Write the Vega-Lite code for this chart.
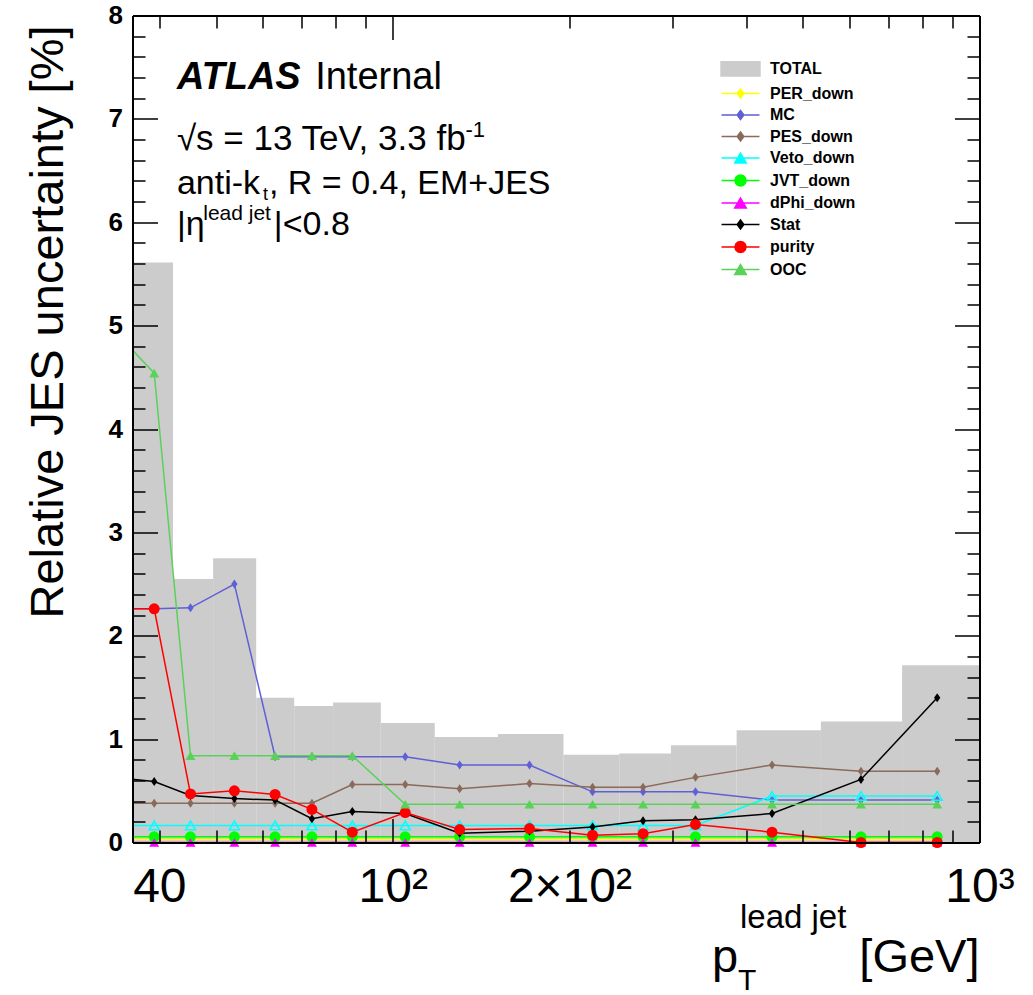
{
  "$schema": "https://vega.github.io/schema/vega-lite/v6.json",
  "width": 847,
  "height": 827,
  "autosize": {"type": "none"},
  "padding": {"left": 132.5, "top": 15.5, "right": 53.5, "bottom": 152.5},
  "background": "white",
  "config": {
    "view": {"stroke": null},
    "axis": {"grid": false, "labelFont": "Liberation Sans", "titleFont": "Liberation Sans", "labelColor": "black", "titleColor": "black", "domainColor": "black", "gridColor": "black", "gridOpacity": 1, "gridWidth": 1.5},
    "text": {"font": "Liberation Sans", "color": "black"}
  },
  "datasets": {
    "bins": [
      {"s": "TOTAL", "lo": 36, "hi": 42.2, "total": 5.61},
      {"s": "TOTAL", "lo": 42.2, "hi": 49.4, "total": 2.55},
      {"s": "TOTAL", "lo": 49.4, "hi": 58.5, "total": 2.75},
      {"s": "TOTAL", "lo": 58.5, "hi": 67.9, "total": 1.40},
      {"s": "TOTAL", "lo": 67.9, "hi": 79.1, "total": 1.32},
      {"s": "TOTAL", "lo": 79.1, "hi": 95.4, "total": 1.355},
      {"s": "TOTAL", "lo": 95.4, "hi": 117.9, "total": 1.155},
      {"s": "TOTAL", "lo": 117.9, "hi": 151.1, "total": 1.02},
      {"s": "TOTAL", "lo": 151.1, "hi": 195.4, "total": 1.05},
      {"s": "TOTAL", "lo": 195.4, "hi": 243.2, "total": 0.85},
      {"s": "TOTAL", "lo": 243.2, "hi": 297.9, "total": 0.86},
      {"s": "TOTAL", "lo": 297.9, "hi": 385.5, "total": 0.94},
      {"s": "TOTAL", "lo": 385.5, "hi": 536.6, "total": 1.085},
      {"s": "TOTAL", "lo": 536.6, "hi": 738, "total": 1.17},
      {"s": "TOTAL", "lo": 738, "hi": 1000, "total": 1.715}
    ],
    "pts": [
      {"s": "PER_down", "pt": 33.5, "v": 0.03}, {"s": "PER_down", "pt": 39.2, "v": 0.03}, {"s": "PER_down", "pt": 45.2, "v": 0.03}, {"s": "PER_down", "pt": 53.7, "v": 0.03},
      {"s": "PER_down", "pt": 63, "v": 0.03}, {"s": "PER_down", "pt": 72.8, "v": 0.03}, {"s": "PER_down", "pt": 85.3, "v": 0.03}, {"s": "PER_down", "pt": 105, "v": 0.03},
      {"s": "PER_down", "pt": 130, "v": 0.03}, {"s": "PER_down", "pt": 171, "v": 0.03}, {"s": "PER_down", "pt": 219, "v": 0.03}, {"s": "PER_down", "pt": 267, "v": 0.03},
      {"s": "PER_down", "pt": 328, "v": 0.03}, {"s": "PER_down", "pt": 443, "v": 0.03}, {"s": "PER_down", "pt": 628, "v": 0.03}, {"s": "PER_down", "pt": 847, "v": 0.03},

      {"s": "MC", "pt": 33.5, "v": 2.26}, {"s": "MC", "pt": 39.2, "v": 2.26}, {"s": "MC", "pt": 45.2, "v": 2.27}, {"s": "MC", "pt": 53.7, "v": 2.5},
      {"s": "MC", "pt": 63, "v": 0.83}, {"s": "MC", "pt": 72.8, "v": 0.83}, {"s": "MC", "pt": 85.3, "v": 0.83}, {"s": "MC", "pt": 105, "v": 0.83},
      {"s": "MC", "pt": 130, "v": 0.75}, {"s": "MC", "pt": 171, "v": 0.75}, {"s": "MC", "pt": 219, "v": 0.49}, {"s": "MC", "pt": 267, "v": 0.49},
      {"s": "MC", "pt": 328, "v": 0.49}, {"s": "MC", "pt": 443, "v": 0.41}, {"s": "MC", "pt": 628, "v": 0.41}, {"s": "MC", "pt": 847, "v": 0.41},

      {"s": "PES_down", "pt": 33.5, "v": 0.38}, {"s": "PES_down", "pt": 39.2, "v": 0.38}, {"s": "PES_down", "pt": 45.2, "v": 0.38}, {"s": "PES_down", "pt": 53.7, "v": 0.38},
      {"s": "PES_down", "pt": 63, "v": 0.38}, {"s": "PES_down", "pt": 72.8, "v": 0.38}, {"s": "PES_down", "pt": 85.3, "v": 0.56}, {"s": "PES_down", "pt": 105, "v": 0.56},
      {"s": "PES_down", "pt": 130, "v": 0.52}, {"s": "PES_down", "pt": 171, "v": 0.57}, {"s": "PES_down", "pt": 219, "v": 0.535}, {"s": "PES_down", "pt": 267, "v": 0.535},
      {"s": "PES_down", "pt": 328, "v": 0.63}, {"s": "PES_down", "pt": 443, "v": 0.75}, {"s": "PES_down", "pt": 628, "v": 0.69}, {"s": "PES_down", "pt": 847, "v": 0.69},

      {"s": "Veto_down", "pt": 33.5, "v": 0.165}, {"s": "Veto_down", "pt": 39.2, "v": 0.165}, {"s": "Veto_down", "pt": 45.2, "v": 0.165}, {"s": "Veto_down", "pt": 53.7, "v": 0.165},
      {"s": "Veto_down", "pt": 63, "v": 0.165}, {"s": "Veto_down", "pt": 72.8, "v": 0.165}, {"s": "Veto_down", "pt": 85.3, "v": 0.165}, {"s": "Veto_down", "pt": 105, "v": 0.165},
      {"s": "Veto_down", "pt": 130, "v": 0.165}, {"s": "Veto_down", "pt": 171, "v": 0.165}, {"s": "Veto_down", "pt": 219, "v": 0.165}, {"s": "Veto_down", "pt": 267, "v": 0.165},
      {"s": "Veto_down", "pt": 328, "v": 0.165}, {"s": "Veto_down", "pt": 443, "v": 0.45}, {"s": "Veto_down", "pt": 628, "v": 0.45}, {"s": "Veto_down", "pt": 847, "v": 0.45},

      {"s": "JVT_down", "pt": 33.5, "v": 0.055}, {"s": "JVT_down", "pt": 39.2, "v": 0.055}, {"s": "JVT_down", "pt": 45.2, "v": 0.055}, {"s": "JVT_down", "pt": 53.7, "v": 0.055},
      {"s": "JVT_down", "pt": 63, "v": 0.055}, {"s": "JVT_down", "pt": 72.8, "v": 0.055}, {"s": "JVT_down", "pt": 85.3, "v": 0.055}, {"s": "JVT_down", "pt": 105, "v": 0.055},
      {"s": "JVT_down", "pt": 130, "v": 0.055}, {"s": "JVT_down", "pt": 171, "v": 0.055}, {"s": "JVT_down", "pt": 219, "v": 0.055}, {"s": "JVT_down", "pt": 267, "v": 0.055},
      {"s": "JVT_down", "pt": 328, "v": 0.055}, {"s": "JVT_down", "pt": 443, "v": 0.055}, {"s": "JVT_down", "pt": 628, "v": 0.055}, {"s": "JVT_down", "pt": 847, "v": 0.055},

      {"s": "dPhi_down", "pt": 33.5, "v": 0}, {"s": "dPhi_down", "pt": 39.2, "v": 0}, {"s": "dPhi_down", "pt": 45.2, "v": 0}, {"s": "dPhi_down", "pt": 53.7, "v": 0},
      {"s": "dPhi_down", "pt": 63, "v": 0}, {"s": "dPhi_down", "pt": 72.8, "v": 0}, {"s": "dPhi_down", "pt": 85.3, "v": 0}, {"s": "dPhi_down", "pt": 105, "v": 0},
      {"s": "dPhi_down", "pt": 130, "v": 0}, {"s": "dPhi_down", "pt": 171, "v": 0}, {"s": "dPhi_down", "pt": 219, "v": 0}, {"s": "dPhi_down", "pt": 267, "v": 0},
      {"s": "dPhi_down", "pt": 328, "v": 0}, {"s": "dPhi_down", "pt": 443, "v": 0}, {"s": "dPhi_down", "pt": 628, "v": 0}, {"s": "dPhi_down", "pt": 847, "v": 0},

      {"s": "Stat", "pt": 33.5, "v": 0.63}, {"s": "Stat", "pt": 39.2, "v": 0.59}, {"s": "Stat", "pt": 45.2, "v": 0.455}, {"s": "Stat", "pt": 53.7, "v": 0.425},
      {"s": "Stat", "pt": 63, "v": 0.41}, {"s": "Stat", "pt": 72.8, "v": 0.23}, {"s": "Stat", "pt": 85.3, "v": 0.30}, {"s": "Stat", "pt": 105, "v": 0.28},
      {"s": "Stat", "pt": 130, "v": 0.09}, {"s": "Stat", "pt": 171, "v": 0.11}, {"s": "Stat", "pt": 219, "v": 0.15}, {"s": "Stat", "pt": 267, "v": 0.21},
      {"s": "Stat", "pt": 328, "v": 0.22}, {"s": "Stat", "pt": 443, "v": 0.28}, {"s": "Stat", "pt": 628, "v": 0.61}, {"s": "Stat", "pt": 847, "v": 1.40},

      {"s": "purity", "pt": 33.5, "v": 2.26}, {"s": "purity", "pt": 39.2, "v": 2.26}, {"s": "purity", "pt": 45.2, "v": 0.47}, {"s": "purity", "pt": 53.7, "v": 0.5},
      {"s": "purity", "pt": 63, "v": 0.465}, {"s": "purity", "pt": 72.8, "v": 0.32}, {"s": "purity", "pt": 85.3, "v": 0.10}, {"s": "purity", "pt": 105, "v": 0.29},
      {"s": "purity", "pt": 130, "v": 0.125}, {"s": "purity", "pt": 171, "v": 0.135}, {"s": "purity", "pt": 219, "v": 0.07}, {"s": "purity", "pt": 267, "v": 0.085},
      {"s": "purity", "pt": 328, "v": 0.175}, {"s": "purity", "pt": 443, "v": 0.10}, {"s": "purity", "pt": 628, "v": 0.0}, {"s": "purity", "pt": 847, "v": 0.0},

      {"s": "OOC", "pt": 33.5, "v": 4.95}, {"s": "OOC", "pt": 39.2, "v": 4.54}, {"s": "OOC", "pt": 45.2, "v": 0.84}, {"s": "OOC", "pt": 53.7, "v": 0.84},
      {"s": "OOC", "pt": 63, "v": 0.84}, {"s": "OOC", "pt": 72.8, "v": 0.84}, {"s": "OOC", "pt": 85.3, "v": 0.84}, {"s": "OOC", "pt": 105, "v": 0.37},
      {"s": "OOC", "pt": 130, "v": 0.37}, {"s": "OOC", "pt": 171, "v": 0.37}, {"s": "OOC", "pt": 219, "v": 0.37}, {"s": "OOC", "pt": 267, "v": 0.37},
      {"s": "OOC", "pt": 328, "v": 0.37}, {"s": "OOC", "pt": 443, "v": 0.37}, {"s": "OOC", "pt": 628, "v": 0.37}, {"s": "OOC", "pt": 847, "v": 0.37}
    ]
  },
  "resolve": {"axis": {"x": "independent", "y": "independent"}},
  "layer": [
    {
      "data": {"name": "bins"},
      "mark": {"type": "rect", "clip": true},
      "encoding": {
        "x": {"field": "lo", "type": "quantitative",
              "scale": {"type": "log", "domain": [36, 1000], "nice": false},
              "axis": {"orient": "bottom", "values": [40, 100, 200, 1000],
                       "ticks": false, "grid": false,
                       "domain": true, "domainWidth": 2, "domainColor": "black",
                       "labelExpr": "datum.value == 40 ? '40' : datum.value == 100 ? '10²' : datum.value == 200 ? '2×10²' : '10³'",
                       "labelFontSize": 48, "labelPadding": 21, "labelBaseline": "top", "labelAlign": "center", "labelFlush": false, "labelOverlap": false, "labelBound": false, "title": null, "zindex": 3}},
        "x2": {"field": "hi"},
        "y": {"field": "total", "type": "quantitative",
              "scale": {"domain": [0, 8], "nice": false, "zero": true},
              "axis": {"orient": "left", "values": [0, 1, 2, 3, 4, 5, 6, 7, 8],
                       "ticks": false, "grid": false,
                       "domain": true, "domainWidth": 2, "domainColor": "black",
                       "labelFontSize": 26, "labelFontWeight": "bold", "labelPadding": 10, "labelOverlap": false, "labelFlush": false,
                       "title": "Relative JES uncertainty [%]", "titleFontSize": 47, "titleFontWeight": "normal", "titleAngle": 270,
                       "titleAlign": "right", "titleBaseline": "alphabetic", "titleX": -70.5, "titleY": 9.5, "zindex": 3}},
        "y2": {"datum": 0},
        "color": {"field": "s", "type": "nominal",
                  "scale": {"domain": ["TOTAL", "PER_down", "MC", "PES_down", "Veto_down", "JVT_down", "dPhi_down", "Stat", "purity", "OOC"],
                            "range": ["#cccccc", "#ffff00", "#5f5fd6", "#8a6a5a", "#00ffff", "#00ff00", "#ff00ff", "#000000", "#ff0000", "#5ad25a"]},
                  "legend": {"title": null, "orient": "none", "legendX": 600, "legendY": 43.5, "padding": 0, "direction": "vertical",
                             "symbolSize": 90, "symbolStrokeWidth": 1.5, "labelOffset": 21.5, "rowPadding": 5.5,
                             "labelFont": "Liberation Sans", "labelFontWeight": "bold", "labelFontSize": 16, "labelColor": "black", "labelLimit": 300,
                             "encode": {
                               "labels": {"update": {"dy": {"signal": "datum.value === 'TOTAL' ? 2 : 0"}}},
                               "symbols": {"update": {
                               "shape": {"signal": "datum.value === 'TOTAL' ? 'M-4.11,-1.1H4.11V1.9H-4.11Z' : (datum.value === 'JVT_down' || datum.value === 'purity') ? 'M-4,0H4M1.16,0L1.005,0.58L0.58,1.005L0,1.16L-0.58,1.005L-1.005,0.58L-1.16,0L-1.005,-0.58L-0.58,-1.005L0,-1.16L0.58,-1.005L1.005,-0.58Z' : (datum.value === 'Veto_down' || datum.value === 'dPhi_down' || datum.value === 'OOC') ? 'M-4,0H4M0,-1.05L1.22,1.05L-1.22,1.05Z' : 'M-4,0H4M0,-0.95L0.7,0L0,0.95L-0.7,0Z'"},
                               "fill": {"signal": "datum.value === 'Veto_down' ? 'white' : scale('color', datum.value)"},
                               "stroke": {"signal": "datum.value === 'TOTAL' ? 'transparent' : scale('color', datum.value)"},
                               "strokeWidth": {"value": 1.5},
                               "size": {"value": 90},
                               "opacity": {"value": 1},
                               "fillOpacity": {"value": 1},
                               "strokeOpacity": {"value": 1}
                             }}}}}
      }
    },
    {
      "data": {"name": "pts"}, "transform": [{"filter": "datum.s === 'PER_down'"}],
      "mark": {"type": "line", "strokeWidth": 1.5, "clip": true},
      "encoding": {
        "x": {"field": "pt", "type": "quantitative",
              "axis": {"orient": "bottom", "values": [40, 50, 60, 70, 80, 90, 200, 300, 400, 500, 600, 700, 800, 900],
                       "labels": false, "ticks": false, "domain": false, "grid": true, "gridColor": "black", "gridWidth": 1.5, "gridOpacity": 1,
                       "gridDash": [12.5, 802, 12.5, 3000], "title": null, "zindex": 3}},
        "y": {"field": "v", "type": "quantitative",
              "axis": {"orient": "left", "values": [0.2, 0.4, 0.6, 0.8, 1.2, 1.4, 1.6, 1.8, 2.2, 2.4, 2.6, 2.8, 3.2, 3.4, 3.6, 3.8, 4.2, 4.4, 4.6, 4.8, 5.2, 5.4, 5.6, 5.8, 6.2, 6.4, 6.6, 6.8, 7.2, 7.4, 7.6, 7.8],
                       "labels": false, "ticks": false, "domain": false, "grid": true, "gridColor": "black", "gridWidth": 1.5, "gridOpacity": 1,
                       "gridDash": [12.5, 822, 12.5, 3000], "title": null, "zindex": 3}},
        "color": {"field": "s", "type": "nominal"}
      }
    },
    {
      "data": {"name": "pts"}, "transform": [{"filter": "datum.s === 'PER_down' && datum.pt > 36"}],
      "mark": {"type": "point", "filled": true, "opacity": 1, "shape": "M0,-1L0.7,0L0,1L-0.7,0Z", "size": 81},
      "encoding": {"x": {"field": "pt", "type": "quantitative", "axis": null}, "y": {"field": "v", "type": "quantitative", "axis": null}, "color": {"field": "s", "type": "nominal"}}
    },
    {
      "data": {"name": "pts"}, "transform": [{"filter": "datum.s === 'MC'"}],
      "mark": {"type": "line", "strokeWidth": 1.5, "clip": true},
      "encoding": {
        "x": {"field": "pt", "type": "quantitative",
              "axis": {"orient": "bottom", "values": [100],
                       "labels": false, "ticks": false, "domain": false, "grid": true, "gridColor": "black", "gridWidth": 1.5, "gridOpacity": 1,
                       "gridDash": [24, 779, 24, 3000], "title": null, "zindex": 3}},
        "y": {"field": "v", "type": "quantitative",
              "axis": {"orient": "left", "values": [1, 2, 3, 4, 5, 6, 7],
                       "labels": false, "ticks": false, "domain": false, "grid": true, "gridColor": "black", "gridWidth": 1.5, "gridOpacity": 1,
                       "gridDash": [25, 797, 25, 3000], "title": null, "zindex": 3}},
        "color": {"field": "s", "type": "nominal"}
      }
    },
    {
      "data": {"name": "pts"}, "transform": [{"filter": "datum.s === 'MC' && datum.pt > 36"}],
      "mark": {"type": "point", "filled": true, "opacity": 1, "shape": "M0,-1L0.7,0L0,1L-0.7,0Z", "size": 81},
      "encoding": {"x": {"field": "pt", "type": "quantitative", "axis": null}, "y": {"field": "v", "type": "quantitative", "axis": null}, "color": {"field": "s", "type": "nominal"}}
    },
    {
      "data": {"name": "pts"}, "transform": [{"filter": "datum.s === 'PES_down'"}],
      "mark": {"type": "line", "strokeWidth": 1.5, "clip": true},
      "encoding": {
        "x": {"field": "pt", "type": "quantitative", "axis": {"orient": "top", "values": [], "labels": false, "ticks": false, "grid": false, "domain": true, "domainWidth": 2, "domainColor": "black", "title": null, "zindex": 3}},
        "y": {"field": "v", "type": "quantitative", "axis": {"orient": "right", "values": [], "labels": false, "ticks": false, "grid": false, "domain": true, "domainWidth": 2, "domainColor": "black", "title": null, "zindex": 3}},
        "color": {"field": "s", "type": "nominal"}
      }
    },
    {
      "data": {"name": "pts"}, "transform": [{"filter": "datum.s === 'PES_down' && datum.pt > 36"}],
      "mark": {"type": "point", "filled": true, "opacity": 1, "shape": "M0,-1L0.7,0L0,1L-0.7,0Z", "size": 81},
      "encoding": {"x": {"field": "pt", "type": "quantitative", "axis": null}, "y": {"field": "v", "type": "quantitative", "axis": null}, "color": {"field": "s", "type": "nominal"}}
    },
    {
      "data": {"name": "pts"}, "transform": [{"filter": "datum.s === 'Veto_down'"}],
      "mark": {"type": "line", "strokeWidth": 1.5, "clip": true},
      "encoding": {"x": {"field": "pt", "type": "quantitative", "axis": null}, "y": {"field": "v", "type": "quantitative", "axis": null}, "color": {"field": "s", "type": "nominal"}}
    },
    {
      "data": {"name": "pts"}, "transform": [{"filter": "datum.s === 'Veto_down' && datum.pt > 36"}],
      "mark": {"type": "point", "filled": false, "opacity": 1, "strokeWidth": 1.5, "shape": "triangle-up", "size": 100},
      "encoding": {"x": {"field": "pt", "type": "quantitative", "axis": null}, "y": {"field": "v", "type": "quantitative", "axis": null}, "color": {"field": "s", "type": "nominal"}}
    },
    {
      "data": {"name": "pts"}, "transform": [{"filter": "datum.s === 'JVT_down'"}],
      "mark": {"type": "line", "strokeWidth": 1.5, "clip": true},
      "encoding": {"x": {"field": "pt", "type": "quantitative", "axis": null}, "y": {"field": "v", "type": "quantitative", "axis": null}, "color": {"field": "s", "type": "nominal"}}
    },
    {
      "data": {"name": "pts"}, "transform": [{"filter": "datum.s === 'JVT_down' && datum.pt > 36"}],
      "mark": {"type": "point", "filled": true, "opacity": 1, "shape": "circle", "size": 121},
      "encoding": {"x": {"field": "pt", "type": "quantitative", "axis": null}, "y": {"field": "v", "type": "quantitative", "axis": null}, "color": {"field": "s", "type": "nominal"}}
    },
    {
      "data": {"name": "pts"}, "transform": [{"filter": "datum.s === 'dPhi_down'"}],
      "mark": {"type": "line", "strokeWidth": 1.5, "clip": true},
      "encoding": {"x": {"field": "pt", "type": "quantitative", "axis": null}, "y": {"field": "v", "type": "quantitative", "axis": null}, "color": {"field": "s", "type": "nominal"}}
    },
    {
      "data": {"name": "pts"}, "transform": [{"filter": "datum.s === 'dPhi_down' && datum.pt > 36"}],
      "mark": {"type": "point", "filled": true, "opacity": 1, "shape": "triangle-up", "size": 100},
      "encoding": {"x": {"field": "pt", "type": "quantitative", "axis": null}, "y": {"field": "v", "type": "quantitative", "axis": null}, "color": {"field": "s", "type": "nominal"}}
    },
    {
      "data": {"name": "pts"}, "transform": [{"filter": "datum.s === 'Stat'"}],
      "mark": {"type": "line", "strokeWidth": 1.5, "clip": true},
      "encoding": {"x": {"field": "pt", "type": "quantitative", "axis": null}, "y": {"field": "v", "type": "quantitative", "axis": null}, "color": {"field": "s", "type": "nominal"}}
    },
    {
      "data": {"name": "pts"}, "transform": [{"filter": "datum.s === 'Stat' && datum.pt > 36"}],
      "mark": {"type": "point", "filled": true, "opacity": 1, "shape": "M0,-1L0.7,0L0,1L-0.7,0Z", "size": 81},
      "encoding": {"x": {"field": "pt", "type": "quantitative", "axis": null}, "y": {"field": "v", "type": "quantitative", "axis": null}, "color": {"field": "s", "type": "nominal"}}
    },
    {
      "data": {"name": "pts"}, "transform": [{"filter": "datum.s === 'purity'"}],
      "mark": {"type": "line", "strokeWidth": 1.5, "clip": true},
      "encoding": {"x": {"field": "pt", "type": "quantitative", "axis": null}, "y": {"field": "v", "type": "quantitative", "axis": null}, "color": {"field": "s", "type": "nominal"}}
    },
    {
      "data": {"name": "pts"}, "transform": [{"filter": "datum.s === 'purity' && datum.pt > 36"}],
      "mark": {"type": "point", "filled": true, "opacity": 1, "shape": "circle", "size": 121},
      "encoding": {"x": {"field": "pt", "type": "quantitative", "axis": null}, "y": {"field": "v", "type": "quantitative", "axis": null}, "color": {"field": "s", "type": "nominal"}}
    },
    {
      "data": {"name": "pts"}, "transform": [{"filter": "datum.s === 'OOC'"}],
      "mark": {"type": "line", "strokeWidth": 1.5, "clip": true},
      "encoding": {"x": {"field": "pt", "type": "quantitative", "axis": null}, "y": {"field": "v", "type": "quantitative", "axis": null}, "color": {"field": "s", "type": "nominal"}}
    },
    {
      "data": {"name": "pts"}, "transform": [{"filter": "datum.s === 'OOC' && datum.pt > 36"}],
      "mark": {"type": "point", "filled": true, "opacity": 1, "shape": "triangle-up", "size": 100},
      "encoding": {"x": {"field": "pt", "type": "quantitative", "axis": null}, "y": {"field": "v", "type": "quantitative", "axis": null}, "color": {"field": "s", "type": "nominal"}}
    },
    {
      "data": {"values": [{}]},
      "mark": {"type": "text", "font": "Liberation Sans", "fontSize": 38, "fontWeight": "bold", "fontStyle": "italic", "align": "left", "baseline": "alphabetic"},
      "encoding": {"x": {"datum": 42.85, "type": "quantitative", "axis": null}, "y": {"datum": 7.286, "type": "quantitative", "axis": null}, "text": {"value": "ATLAS"}}
    },
    {
      "data": {"values": [{}]},
      "mark": {"type": "text", "font": "Liberation Sans", "fontSize": 38, "align": "left", "baseline": "alphabetic"},
      "encoding": {"x": {"datum": 73.73, "type": "quantitative", "axis": null}, "y": {"datum": 7.286, "type": "quantitative", "axis": null}, "text": {"value": "Internal"}}
    },
    {
      "data": {"values": [{}]},
      "mark": {"type": "text", "font": "Liberation Sans", "fontSize": 35, "align": "left", "baseline": "alphabetic"},
      "encoding": {"x": {"datum": 42.85, "type": "quantitative", "axis": null}, "y": {"datum": 6.699, "type": "quantitative", "axis": null}, "text": {"value": "√s = 13 TeV, 3.3 fb"}}
    },
    {
      "data": {"values": [{}]},
      "mark": {"type": "text", "font": "Liberation Sans", "fontSize": 22, "align": "left", "baseline": "alphabetic"},
      "encoding": {"x": {"datum": 133, "type": "quantitative", "axis": null}, "y": {"datum": 6.82, "type": "quantitative", "axis": null}, "text": {"value": "-1"}}
    },
    {
      "data": {"values": [{}]},
      "mark": {"type": "text", "font": "Liberation Sans", "fontSize": 34, "align": "left", "baseline": "alphabetic"},
      "encoding": {"x": {"datum": 42.85, "type": "quantitative", "axis": null}, "y": {"datum": 6.273, "type": "quantitative", "axis": null}, "text": {"value": "anti-k"}}
    },
    {
      "data": {"values": [{}]},
      "mark": {"type": "text", "font": "Liberation Sans", "fontSize": 18, "align": "left", "baseline": "alphabetic"},
      "encoding": {"x": {"datum": 60.1, "type": "quantitative", "axis": null}, "y": {"datum": 6.22, "type": "quantitative", "axis": null}, "text": {"value": "t"}}
    },
    {
      "data": {"values": [{}]},
      "mark": {"type": "text", "font": "Liberation Sans", "fontSize": 34, "align": "left", "baseline": "alphabetic"},
      "encoding": {"x": {"datum": 61.5, "type": "quantitative", "axis": null}, "y": {"datum": 6.273, "type": "quantitative", "axis": null}, "text": {"value": ", R = 0.4, EM+JES"}}
    },
    {
      "data": {"values": [{}]},
      "mark": {"type": "text", "font": "Liberation Sans", "fontSize": 34, "align": "left", "baseline": "alphabetic"},
      "encoding": {"x": {"datum": 42.85, "type": "quantitative", "axis": null}, "y": {"datum": 5.877, "type": "quantitative", "axis": null}, "text": {"value": "|η"}}
    },
    {
      "data": {"values": [{}]},
      "mark": {"type": "text", "font": "Liberation Sans", "fontSize": 21, "align": "left", "baseline": "alphabetic"},
      "encoding": {"x": {"datum": 47.52, "type": "quantitative", "axis": null}, "y": {"datum": 6.017, "type": "quantitative", "axis": null}, "text": {"value": "lead jet"}}
    },
    {
      "data": {"values": [{}]},
      "mark": {"type": "text", "font": "Liberation Sans", "fontSize": 34, "align": "left", "baseline": "alphabetic"},
      "encoding": {"x": {"datum": 62.7, "type": "quantitative", "axis": null}, "y": {"datum": 5.877, "type": "quantitative", "axis": null}, "text": {"value": "|<0.8"}}
    },
    {
      "data": {"values": [{}]},
      "mark": {"type": "text", "font": "Liberation Sans", "fontSize": 47, "align": "right", "baseline": "alphabetic"},
      "encoding": {"x": {"datum": 1000, "type": "quantitative", "axis": null}, "y": {"datum": -1.253, "type": "quantitative", "axis": null}, "text": {"value": "[GeV]"}}
    },
    {
      "data": {"values": [{}]},
      "mark": {"type": "text", "font": "Liberation Sans", "fontSize": 47, "align": "left", "baseline": "alphabetic"},
      "encoding": {"x": {"datum": 349.9, "type": "quantitative", "axis": null}, "y": {"datum": -1.253, "type": "quantitative", "axis": null}, "text": {"value": "p"}}
    },
    {
      "data": {"values": [{}]},
      "mark": {"type": "text", "font": "Liberation Sans", "fontSize": 30, "align": "left", "baseline": "alphabetic"},
      "encoding": {"x": {"datum": 387.6, "type": "quantitative", "axis": null}, "y": {"datum": -1.427, "type": "quantitative", "axis": null}, "text": {"value": "T"}}
    },
    {
      "data": {"values": [{}]},
      "mark": {"type": "text", "font": "Liberation Sans", "fontSize": 33, "align": "left", "baseline": "alphabetic"},
      "encoding": {"x": {"datum": 390.6, "type": "quantitative", "axis": null}, "y": {"datum": -0.827, "type": "quantitative", "axis": null}, "text": {"value": "lead jet"}}
    }
  ]
}
